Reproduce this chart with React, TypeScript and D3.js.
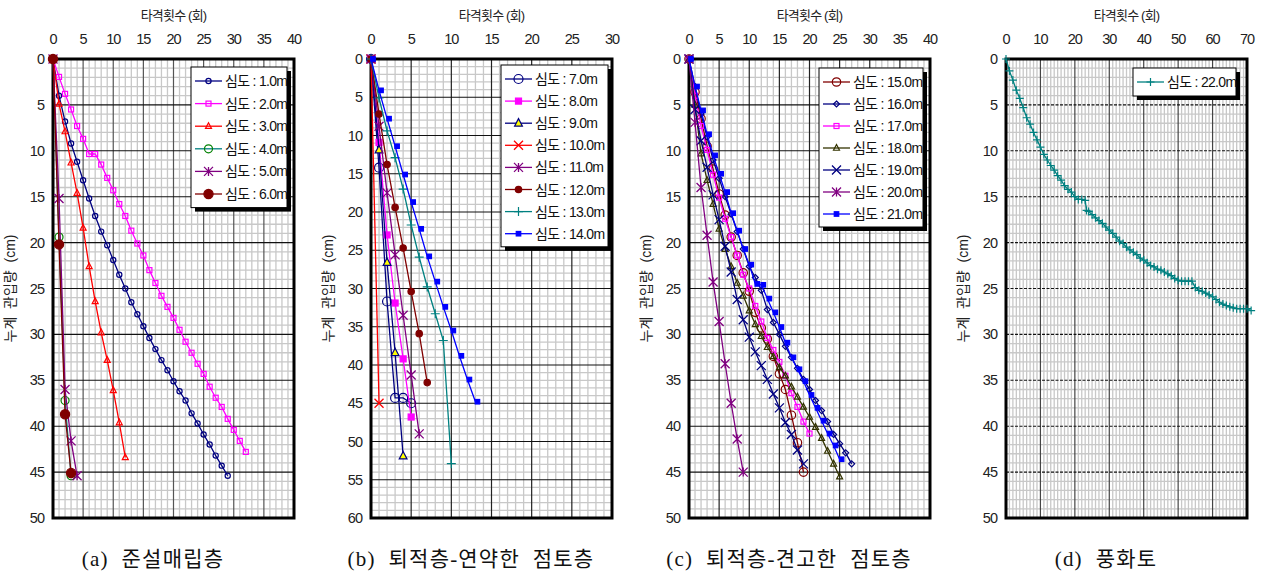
import React from 'react';
import * as d3 from 'd3';

// ---------- Panel (a) data: depth (cm) at blow count = index ----------
const a_1_0 = [0, 4.0, 6.8, 9.2, 11.2, 13.2, 15.2, 17.1, 18.8, 20.3, 21.9, 23.5, 25.0, 26.5, 27.8, 29.1, 30.4, 31.6, 32.8, 33.9, 35.1, 36.2, 37.2, 38.6, 39.7, 40.9, 42.0, 43.2, 44.3, 45.4];
const a_2_0 = [0, 1.95, 3.8, 5.5, 7.3, 8.7, 10.35, 10.35, 11.5, 12.95, 14.3, 15.8, 17.1, 18.7, 20.1, 21.4, 23.0, 24.4, 25.8, 27.0, 28.2, 29.5, 30.8, 32.0, 33.2, 34.3, 35.7, 36.9, 37.9, 39.2, 40.4, 41.6, 42.8];
const a_3_0 = [0, 4.9, 7.9, 11.3, 14.6, 18.4, 22.6, 26.4, 29.8, 32.8, 36.1, 39.6, 43.4];
const a_4_0 = [0, 19.4, 37.2, 45.4];
const a_5_0 = [0, 15.2, 36.0, 41.6, 45.4];
const a_6_0 = [0, 20.2, 38.7, 45.1];

// ---------- Panel (b) ----------
const b_7_0 = [0, 14.2, 31.7, 44.3, 44.3, 45.0];
const b_8_0 = [0, 10.9, 23.0, 31.9, 39.2, 46.8];
const b_9_0 = [0, 11.9, 26.6, 38.4, 51.9];
const b_10_0 = [0, 45.0];
const b_11_0 = [0, 8.8, 17.5, 25.6, 33.5, 41.3, 49.0];
const b_12_0 = [0, 7.2, 13.8, 19.4, 24.7, 30.4, 35.9, 42.3];
const b_13_0 = [0, 5.1, 9.4, 12.9, 17.0, 21.7, 25.9, 29.8, 33.3, 36.8, 52.9];
const b_14_0 = [0, 4.1, 7.8, 11.4, 15.1, 18.7, 22.2, 25.8, 29.1, 32.4, 35.5, 38.8, 41.9, 44.8];

// ---------- Panel (c) ----------
const c_15_0 = [0, 3.6, 6.5, 9.5, 12.0, 14.7, 17.0, 19.4, 21.4, 23.3, 25.3, 27.6, 29.3, 30.5, 32.4, 34.3, 36.0, 38.8, 41.8, 45.0];
const c_16_0 = [0, 3.0, 6.0, 8.5, 11.0, 13.0, 15.0, 16.9, 18.8, 20.7, 22.6, 23.8, 25.2, 27.3, 28.7, 30.0, 31.3, 32.5, 33.7, 34.9, 36.0, 37.2, 38.3, 39.5, 40.9, 41.9, 42.9, 44.1];
const c_17_0 = [0, 4.0, 7.3, 9.9, 12.6, 15.1, 17.4, 19.4, 21.4, 23.5, 25.0, 26.9, 28.6, 30.4, 31.7, 33.0, 34.5, 36.4, 37.9, 39.5, 40.8];
const c_18_0 = [0, 5.0, 10.3, 13.2, 15.8, 18.5, 20.7, 22.6, 24.4, 25.8, 27.4, 28.9, 30.2, 31.4, 32.4, 33.6, 34.5, 35.7, 36.8, 37.9, 39.0, 40.1, 41.3, 42.7, 44.1, 45.5];
const c_19_0 = [0, 5.5, 8.9, 11.8, 14.8, 17.5, 20.4, 23.2, 26.2, 28.4, 30.3, 31.9, 33.4, 34.9, 36.5, 38.0, 39.6, 40.9, 42.6, 44.1];
const c_20_0 = [0, 6.9, 14.0, 19.2, 24.3, 28.6, 33.2, 37.5, 41.4, 45.0];
const c_21_0 = [0, 3.0, 5.6, 8.2, 10.5, 12.5, 14.5, 16.8, 18.7, 20.7, 22.4, 24.5, 24.6, 26.1, 27.6, 29.2, 30.9, 32.5, 33.8, 35.1, 36.6, 38.0, 39.4, 40.8, 42.1, 43.6];

// ---------- Panel (d) ----------
const d_blows = [0, 1, 2, 3, 4, 5, 6, 7, 8, 9, 10, 11, 12, 13, 14, 15, 16, 17, 18, 19, 20, 21, 22, 23, 23.4, 24, 25, 26, 27, 28, 29, 30, 31, 32, 33, 34, 35, 36, 37, 38, 39, 40, 41, 42, 43, 44, 45, 46, 47, 48, 49, 50, 51, 52, 53, 54, 55, 56, 57, 58, 59, 60, 61, 62, 63, 64, 65, 66, 67, 68, 69, 70, 71.2];
const d_22_0 = [0, 1.3, 2.3, 3.4, 4.3, 5.3, 6.4, 7.1, 8.0, 8.8, 9.6, 10.4, 11.0, 11.6, 12.1, 12.7, 13.2, 13.8, 14.2, 14.5, 15.0, 15.3, 15.3, 15.4, 16.5, 16.6, 16.95, 17.3, 17.6, 17.9, 18.3, 18.65, 19.0, 19.4, 19.85, 20.1, 20.5, 20.8, 21.05, 21.3, 21.7, 21.9, 22.2, 22.5, 22.65, 22.9, 23.0, 23.2, 23.4, 23.6, 23.9, 24.1, 24.2, 24.2, 24.2, 24.2, 24.9, 25.2, 25.3, 25.5, 25.7, 25.9, 26.2, 26.5, 26.7, 26.85, 27.0, 27.1, 27.2, 27.2, 27.2, 27.2, 27.4];

const xTitle = '타격횟수 (회)';
const yTitle = '누계  관입량  (cm)';
const captions = ['(a)  준설매립층', '(b)  퇴적층-연약한  점토층', '(c)  퇴적층-견고한  점토층', '(d)  풍화토'];

type Shape = 'circle' | 'square' | 'triangle' | 'asterisk' | 'x' | 'plus' | 'diamond' | 'none';
interface Series { label: string; ys: number[]; xs?: number[]; color: string; mColor?: string; shape: Shape; size: number; fill: string; dx?: number; }

const panels = [
  {
    left: 53, xMax: 40, xStep: 5, yMax: 50, hDash: false, vMajor: '#555',
    legend: { x: 191, y: 67, w: 96, rowH: 22.6 },
    series: [
      { label: '심도 : 1.0m', ys: a_1_0, color: '#000080', shape: 'circle', size: 2.6, fill: 'none' },
      { label: '심도 : 2.0m', ys: a_2_0, color: '#FF00FF', shape: 'square', size: 5, fill: 'none' },
      { label: '심도 : 3.0m', ys: a_3_0, color: '#FF0000', shape: 'triangle', size: 5, fill: 'none' },
      { label: '심도 : 4.0m', ys: a_4_0, color: '#008080', mColor: '#008000', shape: 'circle', size: 4, fill: 'none' },
      { label: '심도 : 5.0m', ys: a_5_0, color: '#800080', shape: 'asterisk', size: 4.5, fill: 'none' },
      { label: '심도 : 6.0m', ys: a_6_0, color: '#800000', shape: 'circle', size: 4.6, fill: '#800000' },
    ] as Series[],
  },
  {
    left: 371, xMax: 30, xStep: 5, yMax: 60, hDash: false, vMajor: '#222',
    legend: { x: 501, y: 65, w: 107, rowH: 22.1 },
    series: [
      { label: '심도 : 7.0m', ys: b_7_0, color: '#000080', shape: 'circle', size: 4.5, fill: 'none' },
      { label: '심도 : 8.0m', ys: b_8_0, color: '#FF00FF', shape: 'square', size: 6, fill: '#FF00FF' },
      { label: '심도 : 9.0m', ys: b_9_0, color: '#000080', shape: 'triangle', size: 6.5, fill: '#FFFF00' },
      { label: '심도 : 10.0m', ys: b_10_0, color: '#FF0000', shape: 'x', size: 4.5, fill: 'none' },
      { label: '심도 : 11.0m', ys: b_11_0, color: '#800080', shape: 'asterisk', size: 4.5, fill: 'none' },
      { label: '심도 : 12.0m', ys: b_12_0, color: '#800000', shape: 'circle', size: 3.2, fill: '#800000' },
      { label: '심도 : 13.0m', ys: b_13_0, color: '#008080', shape: 'plus', size: 4.5, fill: 'none' },
      { label: '심도 : 14.0m', ys: b_14_0, color: '#0000FF', shape: 'square', size: 4.5, fill: '#0000FF', dx: 2 },
    ] as Series[],
  },
  {
    left: 689, xMax: 40, xStep: 5, yMax: 50, hDash: false, vMajor: '#222',
    legend: { x: 819, y: 68, w: 104, rowH: 22 },
    series: [
      { label: '심도 : 15.0m', ys: c_15_0, color: '#800000', shape: 'circle', size: 4.2, fill: 'none' },
      { label: '심도 : 16.0m', ys: c_16_0, color: '#000080', shape: 'diamond', size: 3, fill: 'none' },
      { label: '심도 : 17.0m', ys: c_17_0, color: '#FF00FF', shape: 'square', size: 5, fill: 'none' },
      { label: '심도 : 18.0m', ys: c_18_0, color: '#333300', shape: 'triangle', size: 5, fill: 'none' },
      { label: '심도 : 19.0m', ys: c_19_0, color: '#000080', shape: 'x', size: 4.5, fill: 'none' },
      { label: '심도 : 20.0m', ys: c_20_0, color: '#800080', shape: 'asterisk', size: 4.5, fill: 'none' },
      { label: '심도 : 21.0m', ys: c_21_0, color: '#0000FF', shape: 'square', size: 4.5, fill: '#0000FF', dx: 2 },
    ] as Series[],
  },
  {
    left: 1006, xMax: 70, xStep: 10, yMax: 50, hDash: true, vMajor: '#444',
    legend: { x: 1133, y: 68, w: 103, rowH: 23 },
    series: [
      { label: '심도 : 22.0m', ys: d_22_0, xs: d_blows, color: '#008080', shape: 'plus', size: 4, fill: 'none' },
    ] as Series[],
  },
];

const TOP = 59;
const BOTTOM = 518;
const WIDTH = 241;
const FONT = "'Liberation Sans', Arial, 'Noto Sans CJK KR', sans-serif";
const SERIF = "'Liberation Serif', 'DejaVu Serif', 'Noto Sans CJK KR', serif";

function Marker({ s, cx, cy }: { s: Series; cx: number; cy: number }) {
  const c = s.mColor || s.color;
  const r = s.size;
  const x = cx + (s.dx || 0);
  const sw = 1.2;
  switch (s.shape) {
    case 'circle':
      return <circle cx={x} cy={cy} r={r} fill={s.fill} stroke={c} strokeWidth={sw} />;
    case 'square':
      return <rect x={x - r / 2} y={cy - r / 2} width={r} height={r} fill={s.fill} stroke={c} strokeWidth={sw} />;
    case 'diamond':
      return <path d={`M${x},${cy - r}L${x + r},${cy}L${x},${cy + r}L${x - r},${cy}Z`} fill={s.fill} stroke={c} strokeWidth={sw} />;
    case 'triangle': {
      const h = r;
      return <path d={`M${x},${cy - h * 0.7}L${x + h * 0.6},${cy + h * 0.45}L${x - h * 0.6},${cy + h * 0.45}Z`} fill={s.fill} stroke={c} strokeWidth={sw} />;
    }
    case 'x':
      return <path d={`M${x - r},${cy - r}L${x + r},${cy + r}M${x - r},${cy + r}L${x + r},${cy - r}`} stroke={c} strokeWidth={1.3} fill="none" />;
    case 'plus':
      return <path d={`M${x - r},${cy}L${x + r},${cy}M${x},${cy - r}L${x},${cy + r}`} stroke={c} strokeWidth={1.2} fill="none" />;
    case 'asterisk':
      return <path d={`M${x - r},${cy - r}L${x + r},${cy + r}M${x - r},${cy + r}L${x + r},${cy - r}M${x},${cy - r}L${x},${cy + r}`} stroke={c} strokeWidth={1.3} fill="none" />;
    default:
      return null;
  }
}

function Panel({ p, idx }: { p: typeof panels[number]; idx: number }) {
  const x = d3.scaleLinear().domain([0, p.xMax]).range([p.left, p.left + WIDTH]);
  const y = d3.scaleLinear().domain([0, p.yMax]).range([TOP, BOTTOM]);
  const minorX = d3.range(0, p.xMax + 1, 1).filter((v) => v % p.xStep !== 0);
  const majorX = d3.range(p.xStep, p.xMax, p.xStep);
  const minorY = d3.range(0, p.yMax + 1, 1).filter((v) => v % 5 !== 0);
  const majorY = d3.range(5, p.yMax, 5);
  const xTicks = d3.range(0, p.xMax + 1, p.xStep);
  const yTicks = d3.range(0, p.yMax + 1, 5);
  const line = d3.line<[number, number]>().x((d) => x(d[0])).y((d) => y(d[1]));
  const cx = p.left + WIDTH / 2;
  const lg = p.legend;
  const lgH = lg.rowH * p.series.length + 5;
  return (
    <g>
      {/* grid */}
      {minorX.map((v) => (
        <line key={'mx' + v} x1={x(v)} x2={x(v)} y1={TOP} y2={BOTTOM} stroke="#c8c8c8" strokeWidth={1.3} />
      ))}
      {minorY.map((v) => (
        <line key={'my' + v} x1={p.left} x2={p.left + WIDTH} y1={y(v)} y2={y(v)} stroke="#c8c8c8" strokeWidth={1.3} />
      ))}
      {majorX.map((v) => (
        <line key={'Mx' + v} x1={x(v)} x2={x(v)} y1={TOP} y2={BOTTOM} stroke={p.vMajor} strokeWidth={1.2} />
      ))}
      {majorY.map((v) => (
        <line key={'My' + v} x1={p.left} x2={p.left + WIDTH} y1={y(v)} y2={y(v)} stroke="#111" strokeWidth={1.1} strokeDasharray={p.hDash ? '3,1.5' : undefined} />
      ))}
      <rect x={p.left} y={TOP} width={WIDTH} height={BOTTOM - TOP} fill="none" stroke="#000" strokeWidth={3} />
      {/* axes labels */}
      <text x={cx} y={20} textAnchor="middle" fontSize={13} fontFamily={FONT} letterSpacing={-0.8} fill="#222" style={{ whiteSpace: 'pre' }}>{xTitle}</text>
      {xTicks.map((v) => (
        <text key={'xt' + v} x={x(v)} y={44} textAnchor="middle" fontSize={14.5} fontFamily={FONT} letterSpacing={-1} fill="#222">{v}</text>
      ))}
      {yTicks.map((v) => (
        <text key={'yt' + v} x={p.left - 9} y={y(v) + 5} textAnchor="end" fontSize={14.5} fontFamily={FONT} letterSpacing={-1} fill="#222">{v}</text>
      ))}
      <text transform={`translate(${p.left - 38},${(TOP + BOTTOM) / 2}) rotate(-90)`} textAnchor="middle" fontSize={14} fontFamily={FONT} fill="#222" style={{ whiteSpace: 'pre' }}>{yTitle}</text>
      {/* series */}
      {p.series.map((s, si) => {
        const pts: [number, number][] = s.ys.map((v, i) => [s.xs ? s.xs[i] : i, v]);
        return (
          <g key={'s' + si}>
            <path d={line(pts) || ''} fill="none" stroke={s.color} strokeWidth={1.3} />
            {pts.map((d, i) => (
              <Marker key={i} s={s} cx={x(d[0])} cy={y(d[1])} />
            ))}
          </g>
        );
      })}
      {/* legend */}
      <rect x={lg.x + 4} y={lg.y + 4} width={lg.w} height={lgH} fill="#000" />
      <rect x={lg.x} y={lg.y} width={lg.w} height={lgH} fill="#fff" stroke="#000" strokeWidth={1} />
      {p.series.map((s, si) => {
        const ry = lg.y + 14 + si * lg.rowH;
        return (
          <g key={'lg' + si}>
            <line x1={lg.x + 4} x2={lg.x + 31} y1={ry} y2={ry} stroke={s.color} strokeWidth={1.3} />
            <Marker s={{ ...s, dx: 0 }} cx={lg.x + 17.5} cy={ry} />
            <text x={lg.x + 34} y={ry + 5} fontSize={14} fontFamily={FONT} letterSpacing={-0.7} fill="#111">{s.label}</text>
          </g>
        );
      })}
      {/* caption */}
      <text x={p.left + 100} y={566} textAnchor="middle" fontSize={21} fontFamily={SERIF} letterSpacing={1.2} fill="#111" style={{ whiteSpace: 'pre' }}>{captions[idx]}</text>
    </g>
  );
}

export default function App() {
  return (
    <svg width={1265} height={574} style={{ position: 'absolute', left: 0, top: 0, background: '#fff' }}>
      <rect x={0} y={0} width={1265} height={574} fill="#fff" />
      {panels.map((p, i) => (
        <Panel key={i} p={p} idx={i} />
      ))}
    </svg>
  );
}
